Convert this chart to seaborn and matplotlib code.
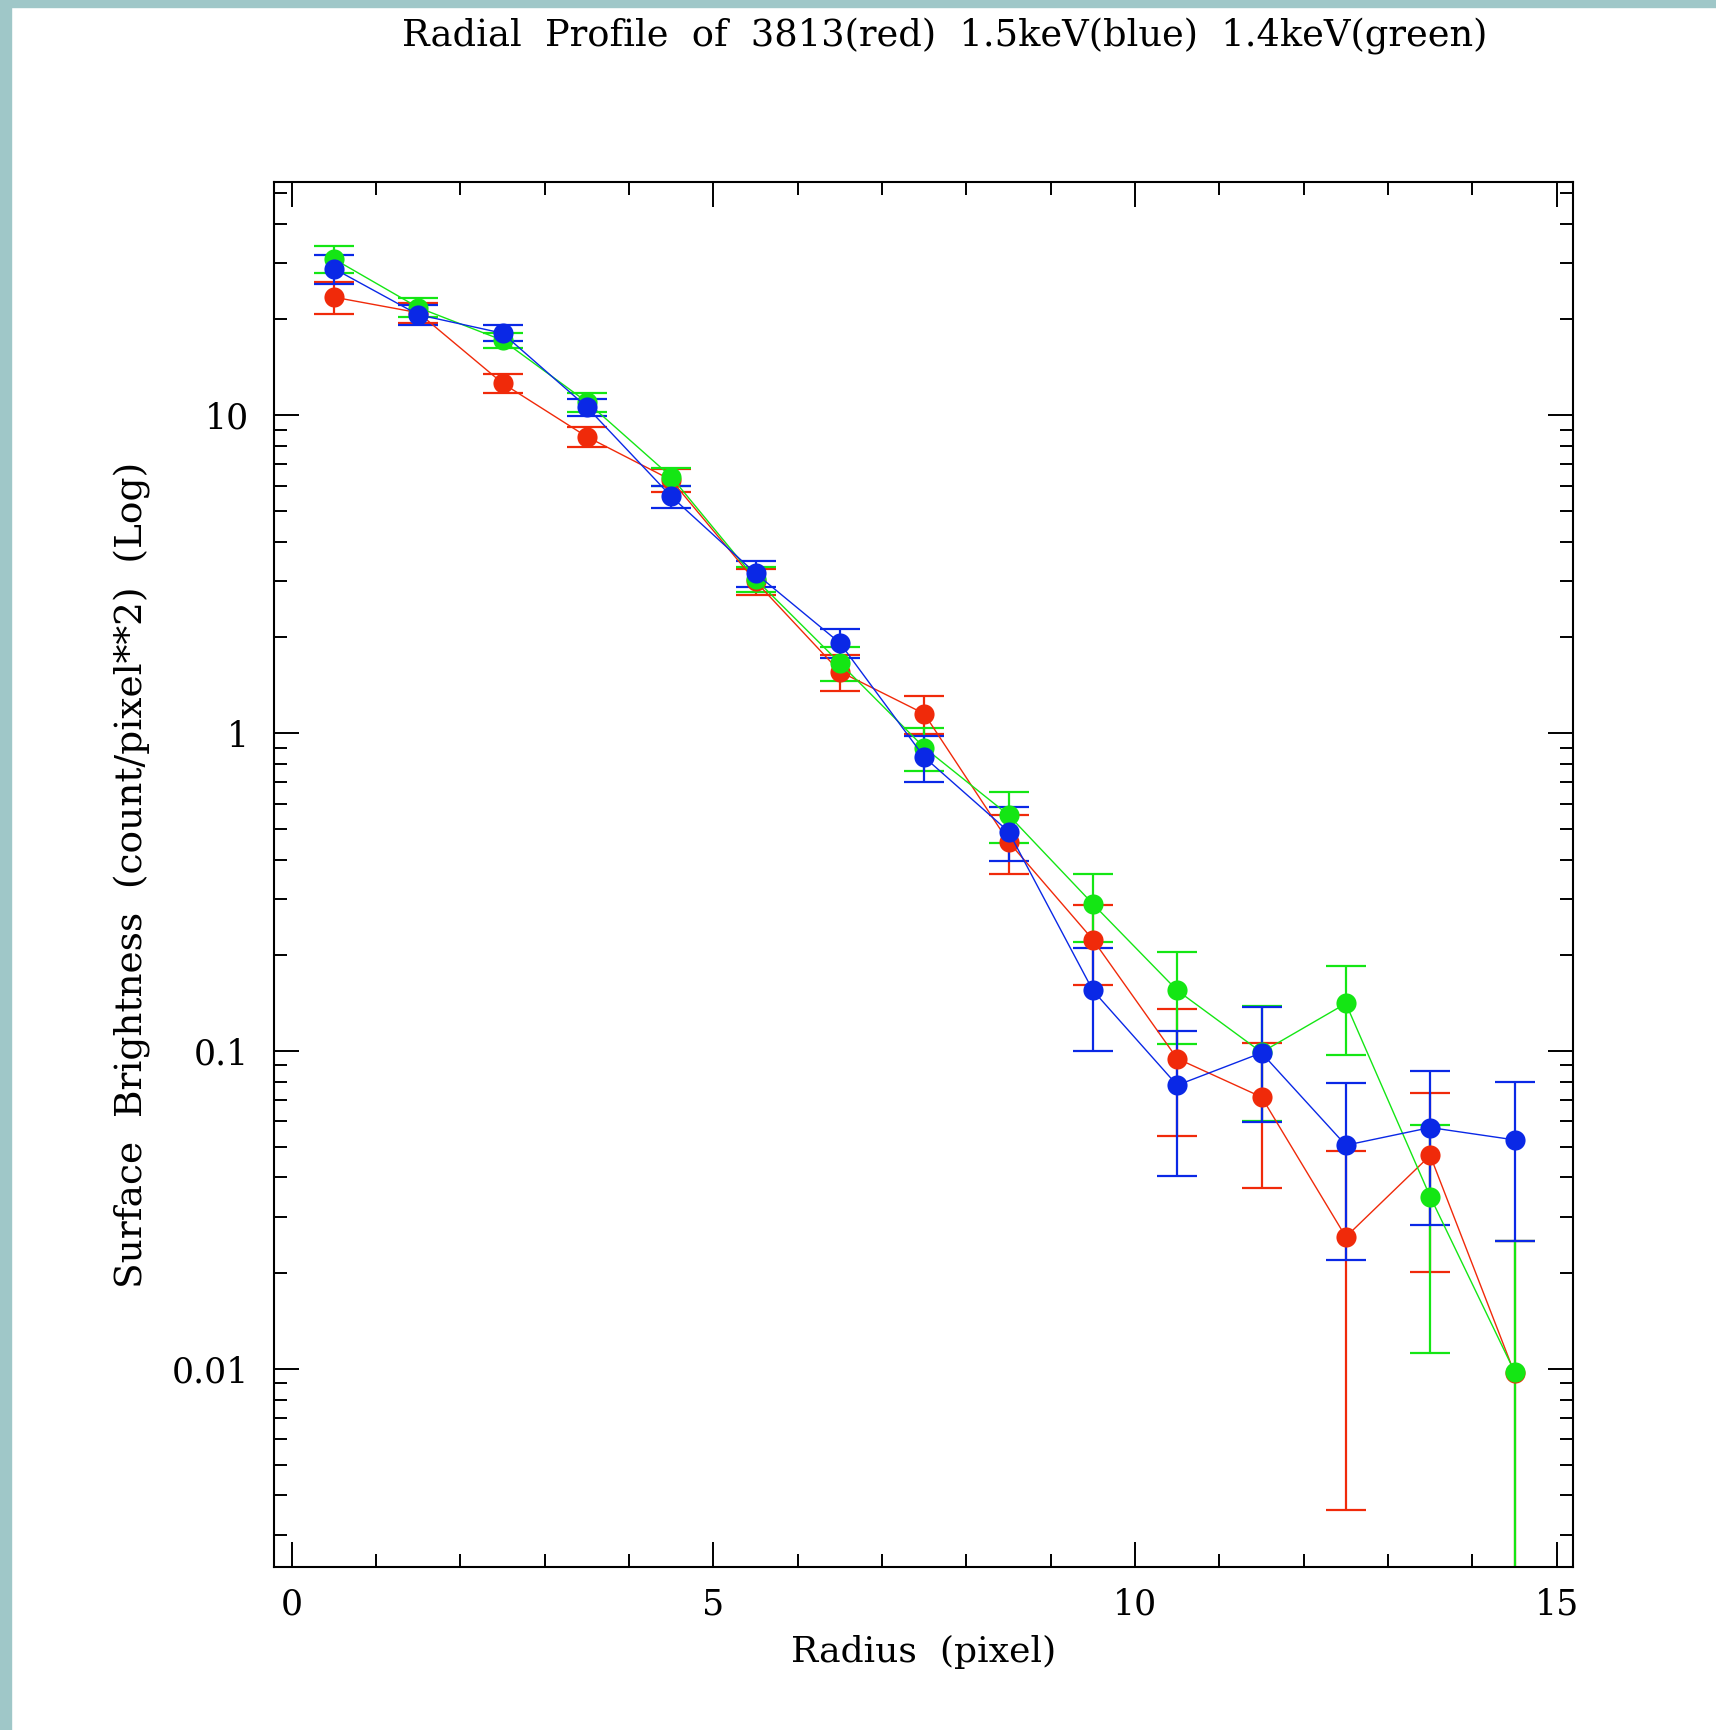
import numpy as np
import pandas as pd
import matplotlib
matplotlib.use("Agg")
import matplotlib.pyplot as plt
import seaborn as sns
from matplotlib.patches import Rectangle
from matplotlib.ticker import MultipleLocator, FixedLocator, FuncFormatter, LogLocator

# radius bins (pixel)
radius = [0.5, 1.5, 2.5, 3.5, 4.5, 5.5, 6.5, 7.5, 8.5, 9.5, 10.5, 11.5, 12.5, 13.5, 14.5]

# 3813 (red)
red_sb = [23.5, 21.0, 12.6, 8.55, 6.25, 3.0, 1.56, 1.15, 0.455, 0.224, 0.0946, 0.0716, 0.026, 0.0469, 0.0097]
red_err = [2.7, 1.5, 0.9, 0.6, 0.5, 0.29, 0.2, 0.155, 0.096, 0.063, 0.0405, 0.0345, 0.0224, 0.0267, 0.0155]

# 1.5keV (blue)
blue_sb = [28.9, 20.7, 18.1, 10.6, 5.55, 3.18, 1.92, 0.84, 0.49, 0.155, 0.078, 0.0986, 0.0505, 0.0574, 0.0525]
blue_err = [3.05, 1.45, 1.05, 0.65, 0.43, 0.3, 0.2, 0.14, 0.095, 0.055, 0.0375, 0.039, 0.0285, 0.029, 0.0273]

# 1.4keV (green)
green_sb = [31.0, 21.8, 17.2, 11.0, 6.4, 3.05, 1.66, 0.9, 0.552, 0.29, 0.155, 0.099, 0.141, 0.0348, 0.0098]
green_err = [3.05, 1.5, 0.95, 0.75, 0.42, 0.28, 0.2, 0.14, 0.1, 0.07, 0.05, 0.039, 0.044, 0.0236, 0.0154]

series = [
    ("3813", red_sb, red_err, "#f02a0a"),
    ("1.4keV", green_sb, green_err, "#14e614"),
    ("1.5keV", blue_sb, blue_err, "#0a28e6"),
]

sns.set_style("ticks")
plt.rcParams["font.family"] = ["DejaVu Serif"]
plt.rcParams["text.color"] = "black"
plt.rcParams["axes.labelcolor"] = "black"
plt.rcParams["xtick.color"] = "black"
plt.rcParams["ytick.color"] = "black"

W, H = 1716, 1730
fig = plt.figure(figsize=(W / 100, H / 100), dpi=100)
fig.patch.set_facecolor("white")

# teal frame strips on left and top
teal = "#9fc7c8"
fig.patches.append(Rectangle((0, 0), 11 / W, 1, transform=fig.transFigure, color=teal, zorder=-5))
fig.patches.append(Rectangle((0, 1 - 7 / H), 1, 7 / H, transform=fig.transFigure, color=teal, zorder=-5))

left, right, top, bottom = 274, 1572.7, 182.3, 1567
ax = fig.add_axes([left / W, 1 - bottom / H, (right - left) / W, (bottom - top) / H])
ax.set_yscale("log")

for name, sb, err, col in series:
    ax.errorbar(radius, sb, yerr=err, fmt="none", ecolor=col, elinewidth=1.6,
                capsize=14.4, capthick=1.6, zorder=2)
    df = pd.DataFrame({"radius": radius, "sb": sb})
    sns.lineplot(data=df, x="radius", y="sb", color=col, marker="o", markersize=14.5,
                 markeredgewidth=0, linewidth=1.0, ax=ax, zorder=3)

ax.set_xlim(-0.21, 15.19)
ax.set_ylim(0.00238, 54)

ax.xaxis.set_major_locator(MultipleLocator(5))
ax.xaxis.set_minor_locator(MultipleLocator(1))
ax.yaxis.set_major_locator(FixedLocator([0.01, 0.1, 1, 10]))
ax.yaxis.set_minor_locator(LogLocator(base=10, subs=np.arange(2, 10), numticks=20))
ax.yaxis.set_major_formatter(FuncFormatter(lambda v, p: "%g" % v))
ax.xaxis.set_major_formatter(FuncFormatter(lambda v, p: "%g" % v))

ax.tick_params(which="both", direction="in", top=True, right=True, color="black",
               labelcolor="black", width=1.4)
ax.tick_params(which="major", length=18, labelsize=25)
ax.tick_params(which="minor", length=9.4)
ax.tick_params(axis="x", which="major", pad=15)
ax.tick_params(axis="y", which="major", pad=18)
for s in ax.spines.values():
    s.set_linewidth(1.5)
    s.set_color("black")

ax.set_xlabel("Radius  (pixel)", fontsize=26, color="black")
ax.xaxis.label.set_va("baseline")
ax.xaxis.set_label_coords(0.5, (bottom - 1661.7) / (bottom - top))
ax.set_ylabel("Surface  Brightness  (count/pixel**2)  (Log)", fontsize=27, color="black")
ax.yaxis.label.set_va("center")
ax.yaxis.set_label_coords((133 - left) / (right - left), 0.5)

fig.text(944.6 / W, 1 - 45 / H, "Radial  Profile  of  3813(red)  1.5keV(blue)  1.4keV(green)",
         ha="center", va="baseline", fontsize=26.5, color="black")

fig.savefig("out.png", dpi=100, facecolor=fig.get_facecolor())
